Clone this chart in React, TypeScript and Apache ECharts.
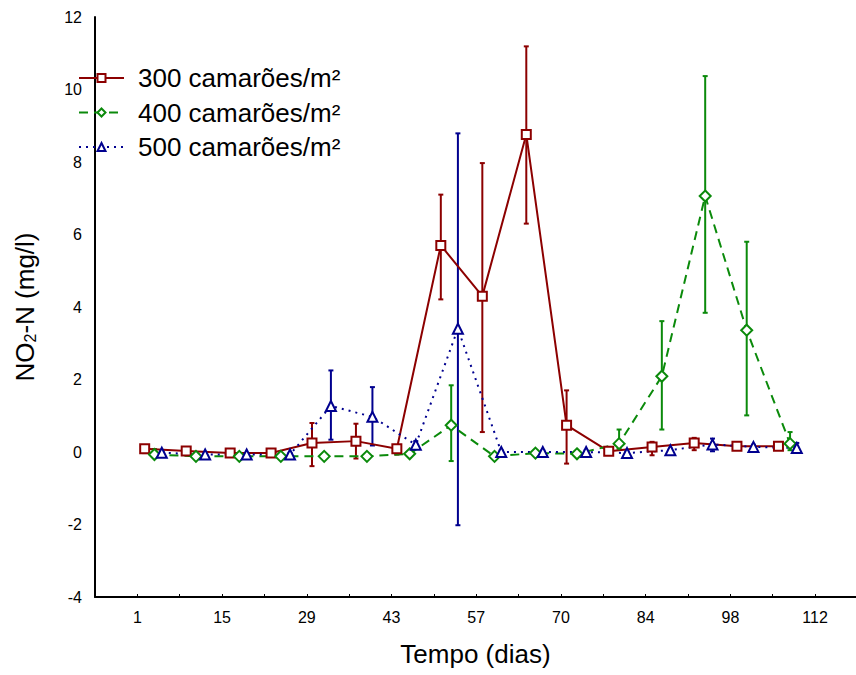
import React, { useEffect, useRef } from 'react';
import * as echarts from 'echarts';

// ---- axis ticks ----
const X_TICK_LABELS = ['1', '15', '29', '43', '57', '70', '84', '98', '112'];
const X_TICK_STEP = 6.9375; // half of the labelled step (13.875 days)
const Y_MIN = -4;
const Y_MAX = 12;
const Y_STEP = 2;

// ---- series names ----
const NAME_300 = '300 camarões/m²';
const NAME_400 = '400 camarões/m²';
const NAME_500 = '500 camarões/m²';

// ---- 300 camarões/m² ----
const DAYS_300 = [2.2, 9.0, 16.2, 22.9, 29.6, 36.8, 43.5, 50.7, 57.5, 64.7, 71.3, 78.2, 85.3, 92.2, 99.2, 106.0];
const MEAN_300 = [0.09, 0.03, -0.03, -0.03, 0.25, 0.3, 0.09, 5.7, 4.3, 8.76, 0.74, 0.02, 0.14, 0.25, 0.16, 0.16];
const LOW_300 = [-0.03, -0.02, -0.06, -0.06, -0.39, -0.18, -0.07, 4.21, 0.55, 6.3, -0.32, -0.02, -0.09, 0.05, 0.08, 0.06];
const HIGH_300 = [0.15, 0.08, 0.0, 0.0, 0.8, 0.78, 0.15, 7.1, 7.97, 11.19, 1.7, 0.06, 0.28, 0.39, 0.24, 0.26];

// ---- 400 camarões/m² ----
const DAYS_400 = [3.8, 10.6, 17.7, 24.5, 31.6, 38.6, 45.6, 52.4, 59.5, 66.2, 73.0, 79.9, 86.9, 94.0, 100.8, 107.9];
const MEAN_400 = [-0.07, -0.12, -0.12, -0.12, -0.12, -0.12, -0.05, 0.74, -0.12, -0.03, -0.05, 0.23, 2.09, 7.06, 3.36, 0.23];
const LOW_400 = [-0.1, -0.16, -0.16, -0.16, -0.16, -0.16, -0.09, -0.25, -0.16, -0.07, -0.09, 0.09, 0.62, 3.84, 1.01, 0.05];
const HIGH_400 = [0.08, -0.08, -0.08, -0.08, -0.08, -0.08, -0.01, 1.84, -0.08, 0.01, -0.01, 0.62, 3.61, 10.37, 5.8, 0.55];

// ---- 500 camarões/m² ----
const DAYS_500 = [5.0, 12.1, 18.9, 26.0, 32.7, 39.5, 46.6, 53.5, 60.6, 67.4, 74.5, 81.2, 88.3, 95.2, 101.9, 109.0];
const MEAN_500 = [-0.02, -0.07, -0.07, -0.07, 1.27, 0.97, 0.2, 3.4, 0.0, 0.0, 0.0, -0.03, 0.05, 0.21, 0.14, 0.11];
const LOW_500 = [-0.06, -0.1, -0.1, -0.1, 0.34, 0.18, 0.1, -2.02, -0.04, -0.04, -0.04, -0.07, 0.01, 0.02, 0.08, 0.0];
const HIGH_500 = [0.02, -0.03, -0.03, -0.03, 2.25, 1.79, 0.3, 8.79, 0.04, 0.04, 0.04, 0.01, 0.09, 0.37, 0.2, 0.25];

const RED = '#8c0000';
const GREEN = '#0b8a0b';
const BLUE = '#00008f';
const FONT = 'Arial, "Liberation Sans", sans-serif';

// the data axis spans days [DATA_MIN, DATA_MAX]; the visible tick axis is the same span shifted by one day
const DATA_MIN = -5.9375;
const DATA_MAX = 118.7;

function errorSeries(name: string, days: number[], low: number[], high: number[], color: string) {
  return {
    type: 'custom',
    name,
    xAxisIndex: 1,
    yAxisIndex: 0,
    z: 1,
    silent: true,
    data: days.map((d, i) => [d, low[i], high[i]]),
    renderItem: (_params: any, api: any) => {
      const x = api.value(0);
      const lo = api.coord([x, api.value(1)]);
      const hi = api.coord([x, api.value(2)]);
      const w = 2.5;
      const style = { stroke: color, lineWidth: 2 };
      return {
        type: 'group',
        children: [
          { type: 'line', shape: { x1: hi[0], y1: hi[1], x2: lo[0], y2: lo[1] }, style },
          { type: 'line', shape: { x1: hi[0] - w, y1: hi[1], x2: hi[0] + w, y2: hi[1] }, style },
          { type: 'line', shape: { x1: lo[0] - w, y1: lo[1], x2: lo[0] + w, y2: lo[1] }, style },
        ],
      };
    },
  };
}

function lineSeries(name: string, days: number[], mean: number[], color: string, symbol: string, size: number, lineType: any) {
  return {
    type: 'line',
    name,
    xAxisIndex: 1,
    yAxisIndex: 0,
    z: 3,
    data: days.map((d, i) => [d, mean[i]]),
    symbol,
    symbolSize: size,
    showSymbol: true,
    itemStyle: { color, borderColor: color, borderWidth: 2 },
    lineStyle: { color, width: 2, type: lineType, cap: 'butt' },
    emphasis: { disabled: true },
  };
}

export default function App() {
  const ref = useRef<HTMLDivElement>(null);
  useEffect(() => {
    if (!ref.current) return;
    const chart = echarts.init(ref.current, undefined, { renderer: 'svg' });
    const option: any = {
      animation: false,
      backgroundColor: '#ffffff',
      textStyle: { fontFamily: FONT },
      grid: { left: 95, right: 0, top: 17, bottom: 78, containLabel: false, outerBoundsMode: 'none' },
      legend: {
        show: true,
        orient: 'vertical',
        left: 73,
        top: 60,
        itemWidth: 45,
        itemHeight: 10,
        itemGap: 8.5,
        data: [NAME_300, NAME_400, NAME_500],
        textStyle: { fontFamily: FONT, fontSize: 26, color: '#000', lineHeight: 26, padding: [0, 0, 0, 9] },
        selectedMode: false,
      },
      xAxis: [
        {
          type: 'value',
          min: DATA_MIN - 1,
          max: DATA_MAX - 1,
          interval: X_TICK_STEP,
          position: 'bottom',
          name: 'Tempo (dias)',
          nameLocation: 'middle',
          nameGap: 44,
          nameTextStyle: { fontFamily: FONT, fontSize: 26, color: '#000' },
          axisLine: { show: true, onZero: false, lineStyle: { color: '#000', width: 2 } },
          axisTick: { show: true, inside: true, length: 3, lineStyle: { color: '#000', width: 1 } },
          splitLine: { show: false },
          axisLabel: {
            color: '#000',
            fontFamily: FONT,
            fontSize: 16,
            margin: 12,
            showMinLabel: true,
            showMaxLabel: true,
            hideOverlap: false,
            formatter: (v: number) => {
              const i = Math.round(v / X_TICK_STEP);
              if (Math.abs(v - i * X_TICK_STEP) > 1e-3 || i < 0 || i % 2 !== 0) return '';
              return X_TICK_LABELS[i / 2] ?? '';
            },
          },
        },
        {
          type: 'value',
          min: DATA_MIN,
          max: DATA_MAX,
          show: false,
          position: 'top',
          splitLine: { show: false },
        },
      ],
      yAxis: {
        type: 'value',
        min: Y_MIN,
        max: Y_MAX,
        interval: Y_STEP,
        name: '{a|NO}{s|2}{a|-N (mg/l)}',
        nameLocation: 'middle',
        nameGap: 57,
        nameRotate: 90,
        nameTextStyle: {
          fontFamily: FONT,
          color: '#000',
          rich: {
            a: { fontFamily: FONT, fontSize: 26, color: '#000', lineHeight: 30, verticalAlign: 'bottom' },
            s: { fontFamily: FONT, fontSize: 16, color: '#000', lineHeight: 16, verticalAlign: 'bottom' },
          },
        },
        axisLine: { show: true, onZero: false, lineStyle: { color: '#000', width: 2 } },
        axisTick: { show: false },
        splitLine: { show: false },
        axisLabel: { color: '#000', fontFamily: FONT, fontSize: 16, margin: 13 },
      },
      series: [
        errorSeries('err300', DAYS_300, LOW_300, HIGH_300, RED),
        errorSeries('err400', DAYS_400, LOW_400, HIGH_400, GREEN),
        errorSeries('err500', DAYS_500, LOW_500, HIGH_500, BLUE),
        lineSeries(NAME_300, DAYS_300, MEAN_300, RED, 'emptyRect', 9, 'solid'),
        lineSeries(NAME_400, DAYS_400, MEAN_400, GREEN, 'emptyDiamond', 11, [9, 6]),
        lineSeries(NAME_500, DAYS_500, MEAN_500, BLUE, 'emptyTriangle', 10, [2, 5]),
      ],
    };
    chart.setOption(option);
    return () => chart.dispose();
  }, []);
  return (
    <div
      ref={ref}
      style={{ position: 'fixed', left: 0, top: 0, width: 856, height: 675, background: '#fff' }}
    />
  );
}
